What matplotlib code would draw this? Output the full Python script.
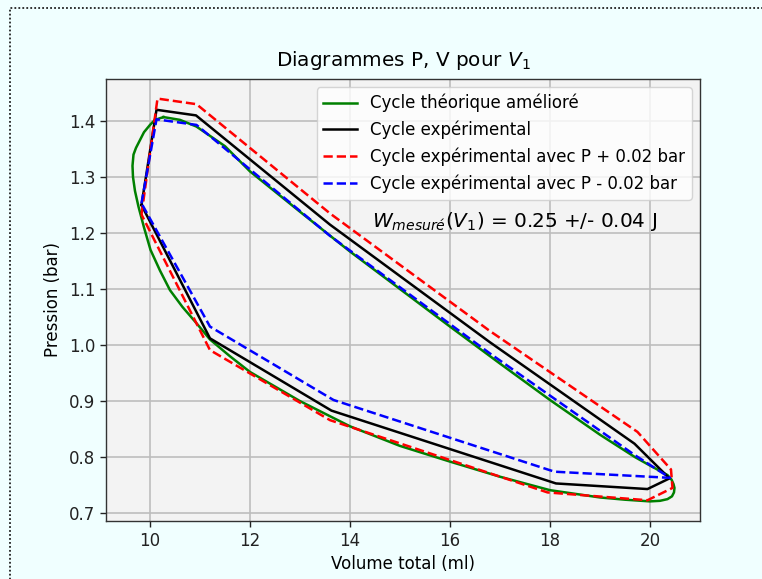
import matplotlib
matplotlib.use("Agg")
import matplotlib.pyplot as plt
from matplotlib.patches import Rectangle

# --- data ---
V_theo = [10.27, 10.6, 10.93, 11.5, 12.0, 13.0, 14.0, 15.0, 16.0, 17.0, 18.0, 19.0, 19.7,
          20.0, 20.35, 20.43, 20.47, 20.49, 20.48, 20.44, 20.35, 20.2, 20.0, 19.5, 19.0, 18.0,
          17.0, 16.0, 15.0, 14.0, 13.0, 12.0, 11.6, 11.2, 10.93, 10.65, 10.4, 10.2, 10.01, 9.88,
          9.77, 9.7, 9.66, 9.65, 9.67, 9.72, 9.8, 9.88, 10.0, 10.1, 10.27]
P_theo = [1.407, 1.402, 1.39, 1.355, 1.31, 1.238, 1.167, 1.10, 1.033, 0.967, 0.902, 0.84, 0.80,
          0.785, 0.768, 0.76, 0.752, 0.745, 0.737, 0.73, 0.725, 0.722, 0.721, 0.724, 0.728, 0.741,
          0.765, 0.792, 0.82, 0.855, 0.90, 0.952, 0.98, 1.01, 1.039, 1.068, 1.098, 1.133, 1.17, 1.21,
          1.247, 1.275, 1.30, 1.32, 1.34, 1.352, 1.366, 1.38, 1.393, 1.402, 1.407]

V_exp = [9.83, 10.13, 10.92, 13.6, 16.8, 19.69, 20.39, 19.95, 18.12, 13.63, 11.2, 9.83]
P_exp = [1.25, 1.42, 1.41, 1.215, 1.005, 0.824, 0.762, 0.743, 0.753, 0.883, 1.012, 1.25]

V_plus = [9.83, 10.15, 10.93, 13.6, 16.8, 19.75, 20.42, 20.45, 19.95, 17.95, 13.6, 11.2, 9.83]
P_plus = [1.233, 1.44, 1.43, 1.235, 1.025, 0.845, 0.778, 0.745, 0.723, 0.737, 0.866, 0.991, 1.233]

V_minus = [9.83, 10.13, 10.93, 13.6, 16.8, 19.69, 20.4, 18.09, 13.67, 11.2, 9.83]
P_minus = [1.253, 1.403, 1.393, 1.195, 0.985, 0.804, 0.763, 0.774, 0.902, 1.033, 1.253]

labels = ["Cycle théorique amélioré", "Cycle expérimental",
          "Cycle expérimental avec P + 0.02 bar", "Cycle expérimental avec P - 0.02 bar"]
x_ticks = [10, 12, 14, 16, 18, 20]
y_ticks = [0.7, 0.8, 0.9, 1.0, 1.1, 1.2, 1.3, 1.4]

fig = plt.figure(figsize=(7.62, 5.79), dpi=100, facecolor="#f0ffff")
ax = fig.add_axes([0.1391, 0.1002, 0.7795, 0.7634])
ax.set_facecolor("#f3f3f3")

lw = 1.8
ax.plot(V_theo, P_theo, color="green", lw=lw, label=labels[0])
ax.plot(V_exp, P_exp, color="black", lw=lw, label=labels[1])
ax.plot(V_plus, P_plus, color="red", lw=lw, ls=(0, (3.7, 1.6)), label=labels[2])
ax.plot(V_minus, P_minus, color="blue", lw=lw, ls=(0, (3.7, 1.6)), label=labels[3])

ax.set_xlim(9.12, 21.0)
ax.set_ylim(0.686, 1.475)
ax.set_xticks(x_ticks)
ax.set_yticks(y_ticks)
ax.grid(True, color="#bdbdbd", lw=1.2)
ax.set_axisbelow(True)
for s in ax.spines.values():
    s.set_color("#333333")
    s.set_linewidth(1.0)
ax.tick_params(labelsize=12, colors="#222222", length=4.2, width=1.0)

ax.set_title(r"Diagrammes P, V pour $V_1$", fontsize=14.4, pad=9)
ax.set_xlabel("Volume total (ml)", fontsize=12, labelpad=4)
ax.set_ylabel("Pression (bar)", fontsize=12, labelpad=5)

ax.text(14.44, 1.22, r"$W_{mesuré}(V_1)$ = 0.25 +/- 0.04 J", fontsize=14.4, va="center", ha="left")

ax.legend(loc="upper right", fontsize=12, framealpha=0.8)

fig.add_artist(Rectangle((10 / 762, -0.1), 1.2, 1 - 8 / 579 + 0.1, transform=fig.transFigure,
                         fill=False, ls=(0, (1, 1.2)), lw=1.3, ec="#222222"))

fig.savefig("out.png", dpi=100, facecolor=fig.get_facecolor())
